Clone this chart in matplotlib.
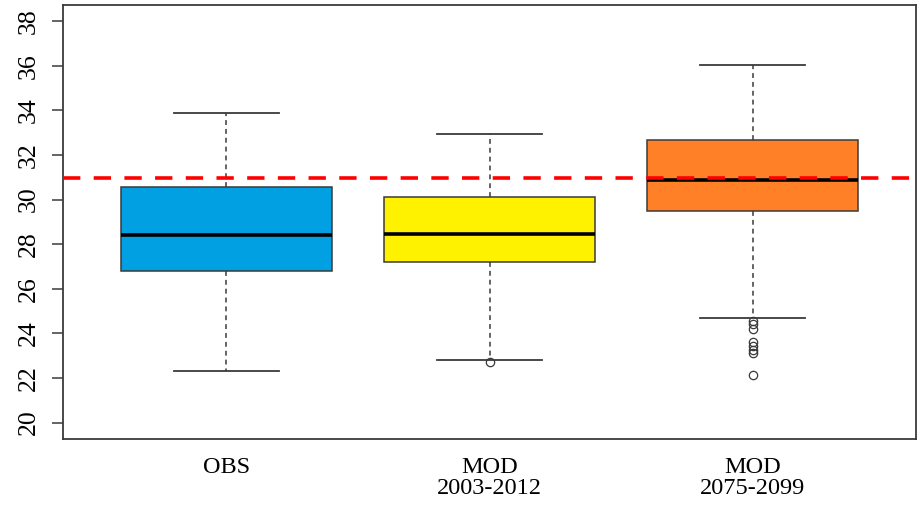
import matplotlib
matplotlib.use("Agg")
import matplotlib.pyplot as plt

# Summary statistics for each group (temperature, °C)
groups = ["OBS", "MOD\n2003-2012", "MOD\n2075-2099"]
whisker_low = [22.33, 22.80, 24.70]
box_q1 = [26.78, 27.18, 29.47]
medians = [28.43, 28.47, 30.87]
box_q3 = [30.55, 30.13, 32.66]
whisker_high = [33.86, 32.95, 36.02]
outliers = [
    [],
    [22.73],
    [24.54, 24.43, 24.21, 23.59, 23.41, 23.26, 23.12, 22.11],
]
threshold = 30.97
box_colors = ["#00A0E3", "#FFF200", "#FF8027"]
y_ticks = [20, 22, 24, 26, 28, 30, 32, 34, 36, 38]

plt.rcParams["font.family"] = ["Liberation Serif", "DejaVu Serif"]

fig = plt.figure(figsize=(9.2, 5.05), dpi=100)
ax = fig.add_axes([0.0685, 0.1315, 0.9272, 0.8585])

stats = []
for i, name in enumerate(groups):
    stats.append({
        "label": name,
        "whislo": whisker_low[i],
        "q1": box_q1[i],
        "med": medians[i],
        "q3": box_q3[i],
        "whishi": whisker_high[i],
        "fliers": outliers[i],
    })

positions = list(range(1, len(groups) + 1))
edge = "#3a3a3a"
bp = ax.bxp(
    stats,
    positions=positions,
    widths=0.8,
    patch_artist=True,
    showfliers=True,
    boxprops=dict(edgecolor=edge, linewidth=1.1),
    medianprops=dict(color="black", linewidth=2.6, solid_capstyle="butt"),
    whiskerprops=dict(color=edge, linewidth=1.1, linestyle=(0, (3.2, 2.6))),
    capprops=dict(color=edge, linewidth=1.3),
    capwidths=0.4,
    flierprops=dict(marker="o", markerfacecolor="none", markeredgecolor=edge,
                    markersize=6, markeredgewidth=0.9),
    zorder=2,
)
for patch, c in zip(bp["boxes"], box_colors):
    patch.set_facecolor(c)

ax.axhline(threshold, color="#FF0000", linewidth=2.6,
           linestyle=(0, (4.8, 3.7)), zorder=5)

ax.set_xlim(0.38, 3.62)
ax.set_ylim(19.28, 38.72)
ax.set_yticks(y_ticks)
ax.set_yticklabels([str(t) for t in y_ticks], rotation=90, va="center",
                   fontsize=18.5)
ax.tick_params(axis="y", length=8, width=1.1, color=edge, pad=9)
ax.set_xticks(positions)
ax.set_xticklabels(groups, fontsize=17.5, linespacing=1.0, va="top")
ax.tick_params(axis="x", length=0, pad=13)
for s in ax.spines.values():
    s.set_color(edge)
    s.set_linewidth(1.3)

fig.savefig("out.png", dpi=100)
